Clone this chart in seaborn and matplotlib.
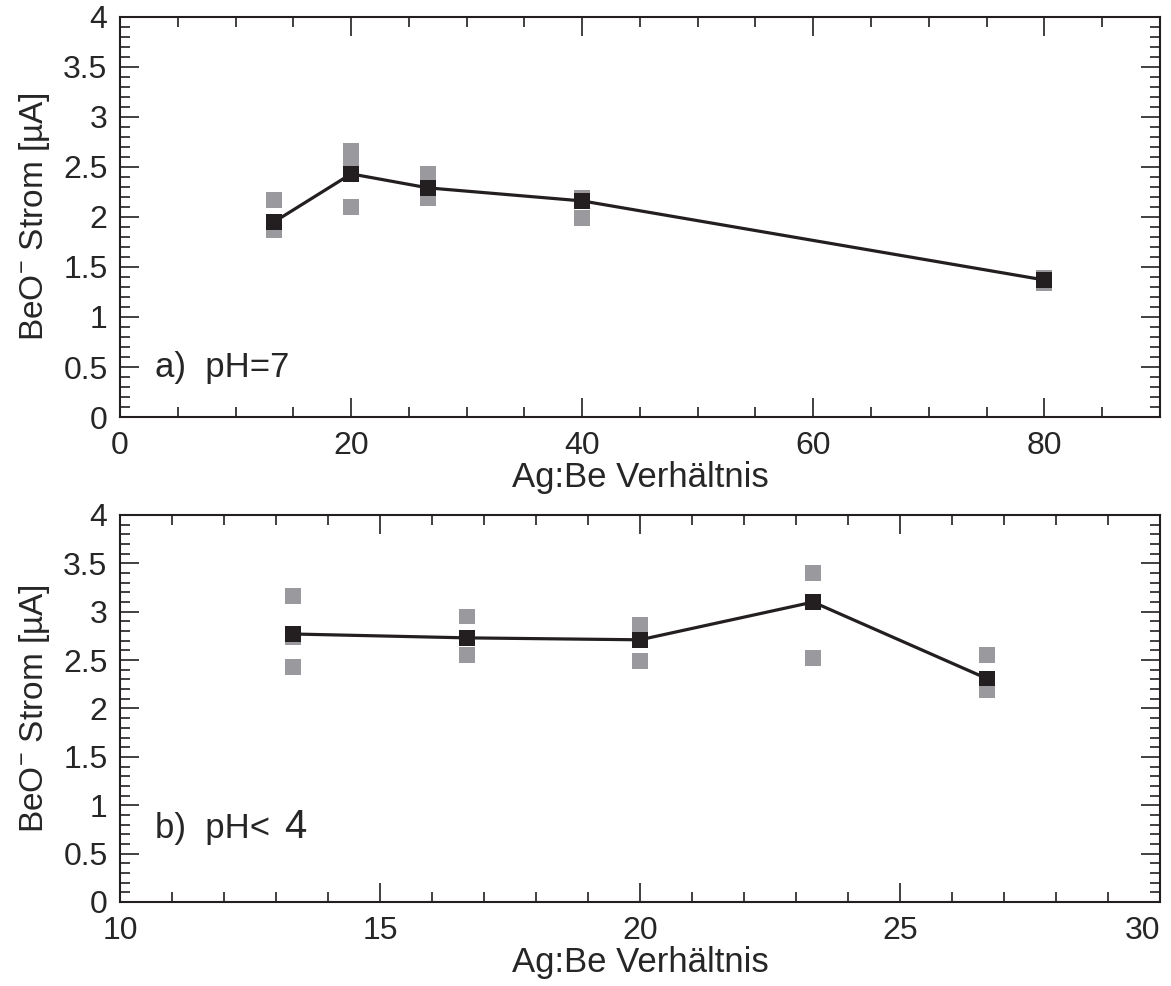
import numpy as np
import pandas as pd
import matplotlib
matplotlib.use("Agg")
import matplotlib.pyplot as plt
import seaborn as sns
from matplotlib.ticker import MultipleLocator

# a) pH=7 : individual measurements (grey) and means (black)
ratio_a = [13.33, 20, 26.67, 40, 80]
mean_a = [1.95, 2.43, 2.29, 2.16, 1.37]
single_x_a = [13.33, 13.33, 20, 20, 20, 26.67, 26.67, 40, 40, 80, 80]
single_y_a = [2.17, 1.87, 2.66, 2.55, 2.10, 2.43, 2.19, 2.19, 1.99, 1.39, 1.34]

# b) pH<4
ratio_b = [13.33, 16.67, 20, 23.33, 26.67]
mean_b = [2.77, 2.73, 2.71, 3.10, 2.31]
single_x_b = [13.33, 13.33, 13.33, 16.67, 16.67, 20, 20, 23.33, 23.33, 26.67, 26.67]
single_y_b = [3.16, 2.74, 2.43, 2.95, 2.55, 2.86, 2.49, 3.40, 2.52, 2.55, 2.19]

yticks = [0, 0.5, 1, 1.5, 2, 2.5, 3, 3.5, 4]
ytick_labels = ['0', '0.5', '1', '1.5', '2', '2.5', '3', '3.5', '4']

sns.set_style("ticks")
plt.rcParams['font.family'] = ['Liberation Sans', 'DejaVu Sans']
plt.rcParams['mathtext.fontset'] = 'custom'
plt.rcParams['mathtext.rm'] = 'Liberation Sans'
plt.rcParams['mathtext.it'] = 'Liberation Sans'

BLACK = '#231f20'
GREY = '#9a9a9e'
TICK_FS = 23
LABEL_FS = 24

fig = plt.figure(figsize=(11.71, 9.86), dpi=100)
ax1 = fig.add_axes([0.1025, 0.577, 0.888, 0.406])
ax2 = fig.add_axes([0.1025, 0.0852, 0.888, 0.3925])


def draw(ax, sx, sy, mx, my):
    sns.scatterplot(x=sx, y=sy, ax=ax, marker='s', s=130, color=GREY,
                    edgecolor='none', linewidth=0, zorder=2)
    sns.lineplot(x=mx, y=my, ax=ax, color=BLACK, linewidth=2.3, zorder=3)
    sns.scatterplot(x=mx, y=my, ax=ax, marker='s', s=130, color=BLACK,
                    edgecolor='none', linewidth=0, zorder=4)


draw(ax1, single_x_a, single_y_a, ratio_a, mean_a)
draw(ax2, single_x_b, single_y_b, ratio_b, mean_b)

ax1.set_xlim(0, 90)
ax1.set_xticks([0, 20, 40, 60, 80])
ax1.xaxis.set_minor_locator(MultipleLocator(5))
ax2.set_xlim(10, 30)
ax2.set_xticks([10, 15, 20, 25, 30])
ax2.xaxis.set_minor_locator(MultipleLocator(1))

for ax in (ax1, ax2):
    ax.set_ylim(0, 4)
    ax.set_yticks(yticks)
    ax.set_yticklabels(ytick_labels)
    ax.yaxis.set_minor_locator(MultipleLocator(0.1))
    ax.tick_params(which='both', direction='in', top=True, right=True,
                   labelsize=TICK_FS, color=BLACK, width=1.2)
    ax.tick_params(which='major', length=14)
    ax.tick_params(which='minor', length=7)
    ax.tick_params(axis='x', which='major', pad=10)
    ax.tick_params(axis='y', which='major', pad=9)
    for sp in ax.spines.values():
        sp.set_visible(True)
        sp.set_linewidth(1.5)
        sp.set_color(BLACK)
    ax.set_xlabel('Ag:Be Verhältnis', fontsize=LABEL_FS + 1, labelpad=0)
    ax.set_ylabel(r'BeO$^{-}$ Strom [µA]', fontsize=LABEL_FS, labelpad=8)

# last label of the lower axis sits inside the figure edge
fig.canvas.draw()
ax2.get_xticklabels()[-1].set_horizontalalignment('right')
ax2.get_xticklabels()[-1].set_x(30.3)

ax1.text(3.0, 0.5, 'a)  pH=7', fontsize=LABEL_FS + 1, va='center', ha='left')
ax2.text(10.67, 0.76, 'b)  pH<', fontsize=LABEL_FS + 1, va='center', ha='left')
ax2.text(13.15, 0.78, '4', fontsize=LABEL_FS + 5, va='center', ha='left')

fig.savefig('out.png', dpi=100)
